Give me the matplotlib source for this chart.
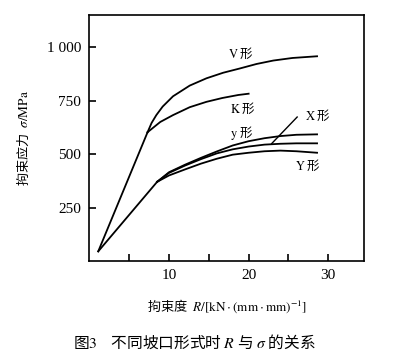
import matplotlib
matplotlib.use("Agg")
import matplotlib.pyplot as plt

plt.rcParams["font.family"] = ["Noto Sans CJK SC", "DejaVu Sans"]
plt.rcParams["mathtext.fontset"] = "stix"

# straight rise from the origin point to the two knees
start = (1.1, 45)
knee_hi = (7.3, 602)
knee_lo = (8.5, 370)

# V and K curves (from upper knee)
v_r = [7.3, 7.8, 8.4, 9.2, 10.5, 12.6, 14.7, 16.8, 18.9, 21, 23.1, 25.5, 28.6]
v_s = [602, 645, 682, 722, 770, 820, 854, 880, 900, 921, 937, 949, 957]
k_r = [7.3, 8.9, 10.5, 12.6, 14.7, 16.7, 18.7, 20]
k_s = [602, 650, 682, 719, 744, 762, 776, 782]

# lower group (from lower knee)
low_r = [8.5, 10, 12, 14, 16, 18, 20, 22, 24, 26, 28.6]
y_small_s = [370, 415, 450, 482, 512, 540, 560, 574, 584, 590, 592]
x_s = [370, 412, 446, 476, 503, 522, 535, 544, 548, 550, 550]
y_big_s = [370, 400, 428, 455, 478, 497, 506, 513, 516, 513, 506]

labels = ["$\\mathrm{V}$ 形", "$\\mathrm{K}$ 形", "$\\mathrm{y}$ 形",
          "$\\mathrm{X}$ 形", "$\\mathrm{Y}$ 形"]
label_pos = [(17.4, 972), (17.7, 715), (17.7, 598), (27.1, 682), (25.8, 449)]
x_leader = ((26.1, 673), (22.9, 549))

fig = plt.figure(figsize=(3.93, 3.55), dpi=100)
ax = fig.add_axes([0.2277, 0.2648, 0.6985, 0.693])

lw = 1.3
ax.plot([start[0], knee_hi[0]], [start[1], knee_hi[1]], color="black", lw=lw)
ax.plot([start[0], knee_lo[0]], [start[1], knee_lo[1]], color="black", lw=lw)
ax.plot(v_r, v_s, color="black", lw=lw)
ax.plot(k_r, k_s, color="black", lw=lw)
for s in (y_small_s, x_s, y_big_s):
    ax.plot(low_r, s, color="black", lw=lw)

for txt, (px, py) in zip(labels, label_pos):
    ax.text(px, py, txt, fontsize=9, va="center", ha="left")
ax.plot([x_leader[0][0], x_leader[1][0]], [x_leader[0][1], x_leader[1][1]],
        color="black", lw=1.0)

ax.set_xlim(0, 34.5)
ax.set_ylim(0, 1150)
ax.set_xticks([5, 10, 15, 20, 25, 30])
ax.set_xticklabels(["", "10", "", "20", "", "30"])
ax.set_yticks([250, 500, 750, 1000])
ax.set_yticklabels(["250", "500", "750", "1 000"])
ax.tick_params(direction="in", length=5, width=1.2, labelsize=11, pad=6)
for lab in ax.get_xticklabels() + ax.get_yticklabels():
    lab.set_family("Liberation Serif")
for sp in ax.spines.values():
    sp.set_linewidth(1.2)

ax.set_ylabel("拘束应力  $\\sigma\\mathrm{/MPa}$", fontsize=9.5, labelpad=11)
ax.set_xlabel("拘束度  $R\\mathrm{/[kN\\cdot(mm\\cdot mm)^{-1}]}$", fontsize=9.5, labelpad=11)

fig.text(0.495, 0.034, "图$\\mathrm{3}$    不同坡口形式时 $R$ 与 $\\sigma$ 的关系",
         fontsize=11.3, ha="center", va="center")

fig.savefig("out.png", dpi=100)
